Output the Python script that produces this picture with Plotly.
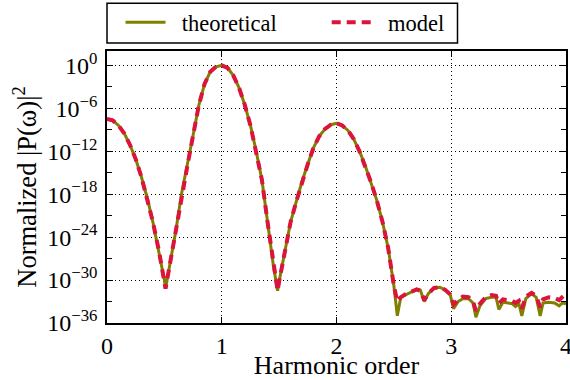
import plotly.graph_objects as go

# Harmonic order (x) and read-off log10 of normalized |P(w)|^2
harmonic = [0.00, 0.05, 0.10, 0.15, 0.20, 0.25, 0.30, 0.35, 0.40, 0.45, 0.50, 0.51,
            0.55, 0.60, 0.65, 0.70, 0.75, 0.80, 0.85, 0.90, 0.95, 1.00,
            1.05, 1.10, 1.15, 1.20, 1.25, 1.30, 1.35, 1.40, 1.45, 1.487,
            1.50, 1.55, 1.60, 1.65, 1.70, 1.75, 1.80, 1.85, 1.90, 1.95, 2.00,
            2.05, 2.10, 2.15, 2.20, 2.25, 2.30, 2.35, 2.40, 2.45, 2.50, 2.53,
            2.56, 2.60, 2.65, 2.70, 2.73, 2.765, 2.80, 2.85, 2.90, 2.95, 2.99,
            3.02, 3.06, 3.10, 3.15, 3.19, 3.215, 3.25, 3.30, 3.35, 3.39, 3.415,
            3.45, 3.50, 3.53, 3.56, 3.59, 3.615, 3.65, 3.70, 3.74, 3.775,
            3.80, 3.85, 3.90, 3.94, 3.97, 4.00]

theoretical_log = [-7.5, -7.7, -8.4, -9.5, -11.1, -13.1, -15.6, -18.5, -21.9, -25.7, -30.0, -31.2,
                   -27.6, -23.1, -17.9, -14.1, -9.8, -5.6, -2.6, -0.9, -0.2, 0.0,
                   -0.35, -1.4, -3.1, -5.5, -8.4, -12.0, -16.0, -22.0, -28.0, -31.5,
                   -30.2, -26.0, -21.9, -19.0, -16.2, -13.8, -11.5, -9.9, -8.9, -8.3, -8.1,
                   -8.4, -9.1, -10.3, -12.0, -14.0, -16.3, -18.8, -21.8, -25.5, -30.8, -35.0,
                   -32.4, -32.1, -31.7, -31.3, -31.4, -33.0, -31.9, -31.1, -31.0, -31.4, -32.0,
                   -34.0, -33.0, -32.6, -32.6, -33.2, -35.2, -33.6, -32.6, -32.4, -32.4, -34.1,
                   -33.1, -33.2, -33.3, -33.7, -33.3, -35.0, -32.6, -31.9, -32.4, -35.0,
                   -33.2, -33.1, -33.2, -33.6, -33.2, -33.3]

model_log = [-7.5, -7.7, -8.4, -9.5, -11.1, -13.1, -15.6, -18.5, -21.9, -25.7, -30.0, -31.2,
             -27.6, -23.1, -17.9, -14.1, -9.8, -5.6, -2.6, -0.9, -0.2, 0.0,
             -0.35, -1.4, -3.1, -5.5, -8.4, -12.0, -16.0, -22.0, -28.0, -31.5,
             -30.2, -26.0, -21.9, -19.0, -16.2, -13.8, -11.5, -9.9, -8.9, -8.3, -8.1,
             -8.4, -9.1, -10.3, -12.0, -14.0, -16.3, -18.8, -21.8, -25.5, -30.8, -33.0,
             -32.4, -32.0, -31.6, -31.3, -31.5, -32.8, -31.9, -31.1, -31.0, -31.4, -32.0,
             -33.4, -32.8, -32.3, -32.4, -33.0, -34.3, -33.3, -32.4, -32.1, -32.2, -33.3,
             -32.7, -32.9, -32.9, -33.2, -32.9, -34.0, -32.3, -31.8, -32.2, -33.8,
             -32.7, -32.4, -32.5, -32.8, -32.3, -31.9]

x_ticks = [0, 1, 2, 3, 4]
y_major_exp = [0, -6, -12, -18, -24, -30, -36]
y_minor_exp = [-3, -9, -15, -21, -27, -33]

FONT = "Liberation Serif"
NB = "\u00a0"

W, H = 570, 380
ML, MR, MT, MB = 107, 4, 51, 57
PW, PH = W - ML - MR, H - MT - MB


def px_to_paper_y(p):
    return (H - MB - p) / PH


def px_to_paper_x(p):
    return (p - ML) / PW


fig = go.Figure()
fig.add_trace(go.Scatter(
    x=harmonic, y=[10 ** v for v in theoretical_log], mode="lines",
    name=NB * 2 + "theoretical" + NB * 8, line=dict(color="#808000", width=3)))
fig.add_trace(go.Scatter(
    x=harmonic, y=[10 ** v for v in model_log], mode="lines",
    name=NB * 2 + "model", line=dict(color="#dc143c", width=4, dash="9px,6px")))

axis_common = dict(showline=True, linecolor="black", linewidth=1.5, mirror="allticks",
                   ticks="inside", ticklen=6, tickwidth=1, tickcolor="black",
                   showgrid=True, gridcolor="black", gridwidth=1, griddash="1px,3px",
                   zeroline=False, ticklabeloverflow="allow",
                   tickfont=dict(family=FONT, size=24, color="black"))

fig.update_xaxes(range=[0, 4], tickvals=x_ticks, ticktext=[str(t) for t in x_ticks],
                 title=dict(text="Harmonic order", font=dict(family=FONT, size=26, color="black"), standoff=6),
                 **axis_common)
fig.update_yaxes(type="log", range=[-36, 2],
                 tickvals=[10.0 ** e for e in y_major_exp],
                 ticktext=["10<sup>%s</sup>" % (str(e).replace("-", "\u2212")) for e in y_major_exp],
                 minor=dict(tickvals=[10.0 ** e for e in y_minor_exp], ticks="inside",
                            ticklen=5, tickcolor="black", showgrid=False),
                 ticklabelstandoff=3,
                 title=dict(text="Normalized |P(\u03c9)|<sup>2</sup>", font=dict(family=FONT, size=26.5, color="black"), standoff=3),
                 **axis_common)

# legend frame
fig.add_shape(type="rect", xref="paper", yref="paper",
              x0=0, x1=px_to_paper_x(457.5), y0=px_to_paper_y(43), y1=px_to_paper_y(3.3),
              line=dict(color="black", width=1.5), fillcolor="white", layer="below")

fig.update_layout(
    width=W, height=H,
    margin=dict(l=ML, r=MR, t=MT, b=MB, autoexpand=False),
    plot_bgcolor="white", paper_bgcolor="white",
    font=dict(family=FONT, size=24, color="black"),
    legend=dict(orientation="h", x=0, xanchor="left", y=px_to_paper_y(22.5), yanchor="middle",
                borderwidth=0, bgcolor="rgba(0,0,0,0)",
                font=dict(family=FONT, size=22.5, color="black"), itemwidth=40,
                title=dict(text=NB, side="left", font=dict(family=FONT, size=14))),
)

fig.write_html("out.html")
